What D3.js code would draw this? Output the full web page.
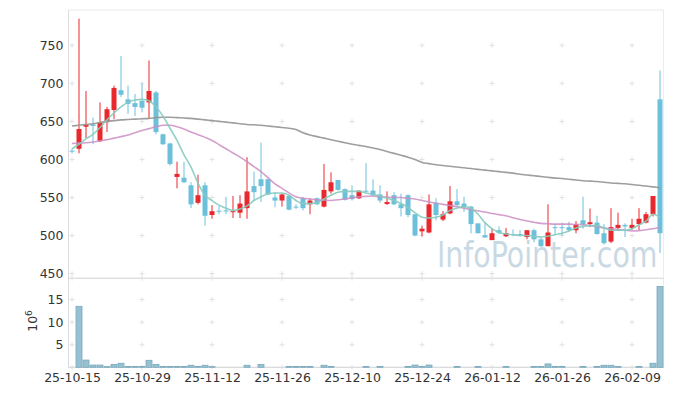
<!DOCTYPE html>
<html><head><meta charset="utf-8">
<script src="https://cdn.jsdelivr.net/npm/d3@7"></script>
<style>body{margin:0;background:#fff}svg{display:block}text{font-family:"DejaVu Sans",sans-serif}</style>
</head><body><svg id="c" width="673" height="396"></svg>
<script>
const dates = [
"2025-10-15","2025-10-16","2025-10-17","2025-10-20","2025-10-21","2025-10-22","2025-10-23","2025-10-24","2025-10-27","2025-10-28",
"2025-10-29","2025-10-30","2025-10-31","2025-11-03","2025-11-04","2025-11-05","2025-11-06","2025-11-07","2025-11-10","2025-11-11",
"2025-11-12","2025-11-13","2025-11-14","2025-11-17","2025-11-18","2025-11-19","2025-11-20","2025-11-21","2025-11-24","2025-11-25",
"2025-11-26","2025-11-27","2025-11-28","2025-12-01","2025-12-02","2025-12-03","2025-12-04","2025-12-05","2025-12-08","2025-12-09",
"2025-12-10","2025-12-11","2025-12-12","2025-12-15","2025-12-16","2025-12-17","2025-12-18","2025-12-19","2025-12-22","2025-12-23",
"2025-12-24","2025-12-26","2025-12-29","2025-12-30","2026-01-02","2026-01-05","2026-01-06","2026-01-07","2026-01-08","2026-01-09",
"2026-01-12","2026-01-13","2026-01-14","2026-01-15","2026-01-16","2026-01-19","2026-01-20","2026-01-21","2026-01-22","2026-01-23",
"2026-01-26","2026-01-27","2026-01-28","2026-01-29","2026-01-30","2026-02-02","2026-02-03","2026-02-04","2026-02-05","2026-02-06",
"2026-02-09","2026-02-10","2026-02-11","2026-02-12","2026-02-13"];
const openP = [611.5,614,643,646,624,649,665,691,679,674, 677,675,688,633,621,577,576,566,543,566, 527,532.5,533,531,530,536,565,574,574,550, 546,552,538,549,541,549,538,558,573,561, 553,549,559,559,554,541.5,553,541,553,528, 505.5,504,543,521,529,545,542,538,516,500.5, 494,507,499,502,502,498,507,495,486,511, 511,511,507,520,515,517,503,492,510,514, 510,515,517,528,679];
const highP = [614,785,690,655,675,669,697,736,697,686, 700,730,690,634,622,597,597,570,580,570, 540,539,551,552,553,603,584,622,575,557, 555,553,541,551,549,550,594,583,573,562, 566,559,595,574,566,558,557,555,554,528, 513,554,549,532,565,561,551,539,516,517, 509,512,510,508,507,507,509,498,541,515, 517,518,519,551,535.5,526,515,536,530,516, 522,536,531,552,717];
const lowP = [608,608,628,620,623,636,653,682,660,657, 662,654,633,619,592,562,569,536,541,513, 522,528,528,523,523,522,546,544,553,537, 538,533,535,533,528,540,537,555,559,546, 546,548,557,551,543,540,540,525,524,499, 499,503,520,519,528,539,531,503,503,497, 494,502,498,499,499,495,491,485,486,501, 500,505,503,509,511,501,488,490,506,498, 507,507,516,525,477];
const closeP = [611,640,646,644,649,666,694,685,673,669, 668,690,636,620,594,581,570,541,553,526, 532,531.5,532,532,542,558,557,565,554,546, 554,534,537,536,546,541,560,570,560,547, 548,559,558,553,546,544,541,536,527,500, 509,541,527,528,545,540,537,515,503,497.5, 503,503.5,503,501,501,507,495,486,504,510, 510,507,514.5,515,517.5,502,490,511,514,512, 514,522,528,552,503];
const volumeM = [0.03,13.5,1.6,0.5,0.5,0.15,0.65,0.9,0.2,0.2, 0.2,1.55,0.65,0.2,0.2,0.2,0.2,0.45,0.2,0.45, 0.15,0.03,0.03,0.03,0.03,0.45,0.03,0.65,0.03,0.03, 0.03,0.2,0.2,0.2,0.2,0.03,0.45,0.2,0.03,0.03, 0.03,0.03,0.2,0.03,0.2,0.03,0.03,0.03,0.2,0.5, 0.2,0.5,0.03,0.03,0.03,0.2,0.03,0.03,0.2,0.03, 0.03,0.03,0.2,0.03,0.03,0.03,0.2,0.2,0.75,0.2, 0.2,0.03,0.03,0.2,0.03,0.2,0.45,0.45,0.2,0.03, 0.03,0.2,0.03,0.9,17.9];
const ma5 = [614,620,627,633,642,652,661,669,675,678, 679,677,669,657,641,625,606,590,569,553, 546,540,536,533,535,539,546,551,555,556, 556,553,546,542,542,543,548,553,557,558, 558,558,556,554,552,549,546,542,537,530, 524,523,524,527,533,536,538,536,528,517, 509,504,502,501,500,500,499,498,499,501, 503,506,510,512,513,513,510,507,507,507, 509,514,519,528,524];
const ma20 = [621,621.5,622,623,624.5,626,628,630,632,635, 638,640.5,643,645,645,643,640,636,632.5,629, 625,619.5,614,608.5,603,597,590.5,584,576,568, 562,556,551,549,548,547,546.5,546,547,548, 549.5,551,551.5,552,551,550.5,550,550,549,548, 546,544,542.5,541,539.5,538,536,534,532.5,531, 529,527.5,526,523.5,521,519,517.5,516,515.5,515, 515,515,514.5,514.5,513,511.5,510,509,508,507, 506,506.5,507.5,509,511];
const ma60 = [644,645,646,647,648.5,650,651,652,652.5,653, 653.5,654,655,655.5,655.5,655,654.5,654,653,652, 651,650,649,648,647,646,645.5,645,644,643, 642,641,639.5,635,632,630,628,626,624,622, 620,618.5,617,615,613,610.5,608,605.5,603,600, 596,594.5,593,592,591,590,589,588,587,586, 585,584,583,582,580.5,579.5,578.5,577.5,576.5,575.5, 575,574,573,572,571.5,571,570,569,568.5,568, 567,566,565,564,563];
const xTickLabels = ["25-10-15","25-10-29","25-11-12","25-11-26","25-12-10","25-12-24","26-01-12","26-01-26","26-02-09"];
const priceTicks = [450,500,550,600,650,700,750];
const volTicks = [5,10,15];

const svg = d3.select("#c");
const L = 68.5, R = 663.5, PT = 10, PB = 278.3, VB = 367.3;
const x = d3.scaleLinear().domain([-0.5, dates.length - 0.5]).range([L, R]);
const y = d3.scaleLinear().domain([443.8, 796.4]).range([PB, PT]);
const vy = d3.scaleLinear().domain([0, 19.7]).range([VB, PB]);
const tickIdx = xTickLabels.map(t => dates.indexOf("20" + t));
const idx = d3.range(dates.length);

// watermark
svg.append("text").attr("transform", "translate(437,267) scale(1,1.28)")
  .attr("font-family", "Roboto, 'Open Sans', sans-serif")
  .attr("font-size", 28.4).attr("fill", "#c9d9e4").text("InfoPointer.com");

// frames
const gc = "#e2e2e2";
svg.append("rect").attr("x", L).attr("y", PT).attr("width", R - L).attr("height", PB - PT).attr("fill", "none").attr("stroke", "#ececec");
svg.append("rect").attr("x", L).attr("y", PB).attr("width", R - L).attr("height", VB - PB).attr("fill", "none").attr("stroke", "#ececec");
svg.append("line").attr("x1", L).attr("x2", L).attr("y1", PT).attr("y2", VB).attr("stroke", "#dcdcdc");
svg.append("line").attr("x1", L).attr("x2", R).attr("y1", VB).attr("y2", VB).attr("stroke", "#dcdcdc");
svg.append("line").attr("x1", L).attr("x2", R).attr("y1", PB).attr("y2", PB).attr("stroke", "#dcdcdc");

// grid plus marks
const plus = svg.append("g").attr("stroke", gc).attr("stroke-width", 1);
function plusAt(px, py) {
  plus.append("line").attr("x1", px - 2.5).attr("x2", px + 2.5).attr("y1", py).attr("y2", py);
  plus.append("line").attr("x1", px).attr("x2", px).attr("y1", py - 2.5).attr("y2", py + 2.5);
}
tickIdx.forEach(t => {
  priceTicks.forEach(v => plusAt(x(t), y(v)));
  volTicks.forEach(v => plusAt(x(t), vy(v)));
  plusAt(x(t), PB); plusAt(x(t), VB);
});

// volume bars
svg.append("g").selectAll("rect").data(idx).join("rect")
  .attr("x", i => x(i) - 3).attr("width", 6)
  .attr("y", i => vy(volumeM[i])).attr("height", i => VB - vy(volumeM[i]))
  .attr("fill", "#97c1d1").attr("stroke", i => (VB - vy(volumeM[i])) > 0.5 ? "#78a9be" : "none").attr("stroke-width", 0.8);

// candles
const red = "#e8282d", blue = "#6cc0da";
const cg = svg.append("g");
cg.selectAll("line").data(idx).join("line")
  .attr("x1", i => x(i)).attr("x2", i => x(i))
  .attr("y1", i => y(highP[i])).attr("y2", i => y(lowP[i]))
  .attr("stroke", i => closeP[i] >= openP[i] ? red : blue).attr("stroke-width", 1);
cg.selectAll("rect").data(idx).join("rect")
  .attr("x", i => x(i) - 2.5).attr("width", 5)
  .attr("y", i => y(Math.max(openP[i], closeP[i])))
  .attr("height", i => Math.max(1, Math.abs(y(openP[i]) - y(closeP[i]))))
  .attr("fill", i => closeP[i] >= openP[i] ? red : blue);

// moving averages
const lineGen = arr => d3.line().x(i => x(i)).y(i => y(arr[i])).curve(d3.curveMonotoneX)(idx);
[[ma60, "#999999", 0.95], [ma20, "#cc8dc4", 0.85], [ma5, "#86cbbf", 0.9]].forEach(([arr, col, op]) => {
  svg.append("path").attr("d", lineGen(arr)).attr("fill", "none").attr("stroke", col)
    .attr("stroke-width", 1.6).attr("stroke-opacity", op);
});

// axes
const ay = svg.append("g").attr("transform", `translate(${L},0)`)
  .call(d3.axisLeft(y).tickValues(priceTicks).tickSize(0).tickPadding(5).tickFormat(d3.format("d")));
const av = svg.append("g").attr("transform", `translate(${L},0)`)
  .call(d3.axisLeft(vy).tickValues(volTicks).tickSize(0).tickPadding(5).tickFormat(d3.format("d")));
const ax = svg.append("g").attr("transform", `translate(0,${VB})`)
  .call(d3.axisBottom(x).tickValues(tickIdx).tickSize(0).tickPadding(5.5).tickFormat((d, k) => xTickLabels[k]));
[ay, av, ax].forEach(g => {
  g.select(".domain").remove();
  g.selectAll("text").attr("font-size", 12.5).attr("fill", "#333").attr("font-family", "'DejaVu Sans', sans-serif");
});

// volume unit label
const vl = svg.append("text").attr("transform", "translate(37,321) rotate(-90)")
  .attr("text-anchor", "middle").attr("font-size", 12.5).attr("fill", "#333");
vl.append("tspan").text("10");
vl.append("tspan").attr("dy", -5).attr("font-size", 9).text("6");
</script></body></html>
